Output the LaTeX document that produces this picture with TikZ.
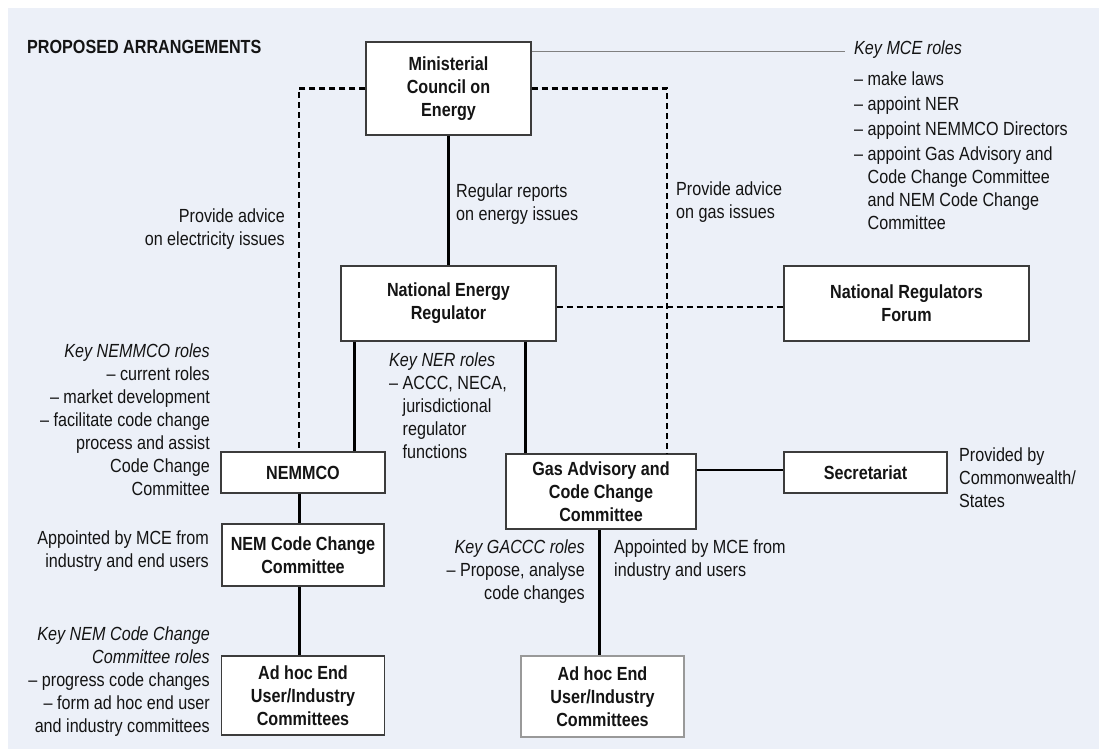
\documentclass[tikz,border=0pt]{standalone}
\usepackage{fontspec}
\setmainfont{Liberation Sans}[FakeStretch=0.85]
\definecolor{panel}{HTML}{ECF0F8}
\definecolor{boxline}{HTML}{3C3C3C}
\begin{document}
\begin{tikzpicture}[x=1pt, y=-1pt,
  every node/.style={font=\fontsize{19}{23}\selectfont, text=black!92, inner sep=0pt},
  box/.style={draw=boxline, line width=1.3pt, fill=white, align=center, font=\fontsize{19}{23}\selectfont\bfseries},
  link/.style={line width=3pt},
  sidelink/.style={line width=2pt},
  advice/.style={line width=2.8pt, dash pattern=on 6pt off 4pt}]
\useasboundingbox (0,0) rectangle (1099,749);
\fill[panel] (8,8) rectangle (1099,749);

\node(Title)[anchor=west, font=\fontsize{19}{23}\selectfont\bfseries] at (27,47) {PROPOSED ARRANGEMENTS};

\node(MCE)[box, minimum width=165pt, minimum height=93pt] at (448.5,88.5) {Ministerial\\Council on\\Energy};
\node(NER)[box, minimum width=215pt, minimum height=75pt] at (448.5,303.5) {National Energy\\Regulator};
\node(NRF)[box, minimum width=245pt, minimum height=75pt] at (906.5,303.5) {National Regulators\\Forum};
\node(NEMMCO)[box, minimum width=164pt, minimum height=41pt] at (303,472.5) {NEMMCO};
\node(GAS)[box, minimum width=190pt, minimum height=75pt] at (601,491.5) {Gas Advisory and\\Code Change\\Committee};
\node(SEC)[box, minimum width=163pt, minimum height=41pt] at (865.5,472.5) {Secretariat};
\node(NEMCC)[box, minimum width=162pt, minimum height=62pt] at (303,555) {NEM Code Change\\Committee};
\node(AdhocL)[box, minimum width=163pt, minimum height=79pt] at (303,695.5) {Ad hoc End\\User/Industry\\Committees};
\node(AdhocR)[box, draw=black!40, minimum width=163pt, minimum height=81pt] at (602.5,696.5) {Ad hoc End\\User/Industry\\Committees};

\node(ElecAdv)[anchor=east, align=right] at (285,229) {Provide advice\\on electricity issues};
\node(RegRep)[anchor=west, align=left] at (456,204) {Regular reports\\on energy issues};
\node(GasAdv)[anchor=west, align=left] at (676,202) {Provide advice\\on gas issues};
\node(MCERoles)[anchor=west, align=left] at (854,135) {\textit{Key MCE roles}\\[8pt]
  -- make laws\\[2pt]
  -- appoint NER\\[2pt]
  -- appoint NEMMCO Directors\\[2pt]
  -- appoint Gas Advisory and\\
  \phantom{-- }Code Change Committee\\
  \phantom{-- }and NEM Code Change\\
  \phantom{-- }Committee};
\node(NEMMCORoles)[anchor=east, align=right] at (210,420) {\textit{Key NEMMCO roles}\\
  -- current roles\\
  -- market development\\
  -- facilitate code change\\
  process and assist\\
  Code Change\\
  Committee};
\node(NERRoles)[anchor=west, align=left] at (389,406) {\textit{Key NER roles}\\
  -- ACCC, NECA,\\
  \phantom{-- }jurisdictional\\
  \phantom{-- }regulator\\
  \phantom{-- }functions};
\node(SecNote)[anchor=west, align=left] at (959,478) {Provided by\\Commonwealth/\\States};
\node(NEMCCApp)[anchor=east, align=right] at (209,551.5) {Appointed by MCE from\\industry and end users};
\node(NEMCCRoles)[anchor=east, align=right] at (210,682) {\textit{Key NEM Code Change}\\
  \textit{Committee roles}\\
  -- progress code changes\\
  -- form ad hoc end user\\
  and industry committees};
\node(GACCCRoles)[anchor=east, align=right] at (585,572) {\textit{Key GACCC roles}\\
  -- Propose, analyse\\
  code changes};
\node(GasApp)[anchor=west, align=left] at (614,560.5) {Appointed by MCE from\\industry and users};

\coordinate(KeyEnd) at (845,52);
\draw[black!50, line width=1pt] (MCE.east |- KeyEnd) -- (KeyEnd);

\draw[link] (MCE.south) -- (NER.north);
\draw[advice] (MCE.west) -| ([xshift=-4pt]NEMMCO.north);
\draw[advice] (MCE.east) -| ([xshift=66pt]GAS.north);
\draw[advice] ([yshift=-3.5pt]NER.east) -- ([yshift=-3.5pt]NRF.west);
\draw[link] ([xshift=-94.5pt]NER.south) -- ([xshift=-94.5pt]NER.south |- NEMMCO.north);
\draw[link] ([xshift=76.5pt]NER.south) -- ([xshift=76.5pt]NER.south |- GAS.north);
\draw[sidelink] ([yshift=2.5pt]SEC.west -| GAS.east) -- ([yshift=2.5pt]SEC.west);
\draw[link] ([xshift=-4pt]NEMMCO.south) -- ([xshift=-4pt]NEMCC.north);
\draw[link] ([xshift=-4pt]NEMCC.south) -- ([xshift=-4pt]AdhocL.north);
\draw[link] ([xshift=-2pt]GAS.south) -- ([xshift=-2pt]GAS.south |- AdhocR.north);
\end{tikzpicture}
\end{document}
